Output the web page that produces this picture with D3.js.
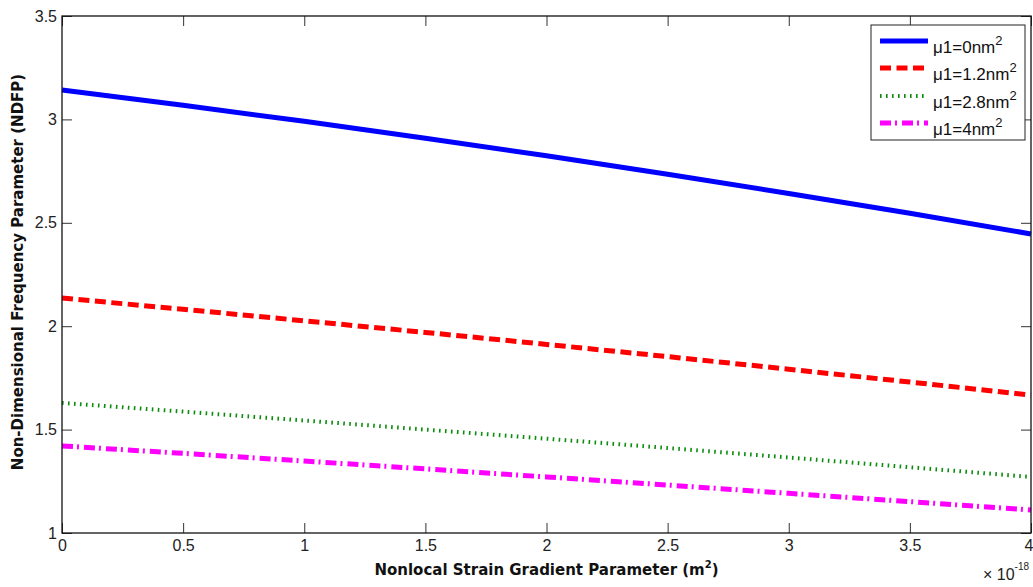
<!DOCTYPE html>
<html>
<head>
<meta charset="utf-8">
<script src="https://cdn.jsdelivr.net/npm/d3@7"></script>
<style>
  html, body { margin: 0; padding: 0; background: #fff; }
  svg { display: block; font-family: Arial, "Liberation Sans", sans-serif; }
</style>
</head>
<body>
<svg id="chart" width="1033" height="587"></svg>
<script>
// Nonlocal strain gradient parameter (units of 1e-18 m^2)
const xValues = [0, 0.5, 1, 1.5, 2, 2.5, 3, 3.5, 4];

// Non-dimensional frequency parameter for each mu1 value
const ndfpMu0   = [3.142, 3.068, 2.991, 2.909, 2.824, 2.735, 2.642, 2.546, 2.446];
const ndfpMu1_2 = [2.136, 2.082, 2.026, 1.970, 1.912, 1.853, 1.792, 1.730, 1.667];
const ndfpMu2_8 = [1.629, 1.587, 1.544, 1.500, 1.456, 1.411, 1.365, 1.318, 1.271];
const ndfpMu4   = [1.421, 1.385, 1.348, 1.310, 1.271, 1.232, 1.192, 1.152, 1.111];

const seriesNames = ["\u03bc1=0nm", "\u03bc1=1.2nm", "\u03bc1=2.8nm", "\u03bc1=4nm"];
const xTicks = [0, 0.5, 1, 1.5, 2, 2.5, 3, 3.5, 4];
const yTicks = [1, 1.5, 2, 2.5, 3, 3.5];

const series = [
  { name: seriesNames[0], values: ndfpMu0,   color: "#0000ff", width: 5, dash: null },
  { name: seriesNames[1], values: ndfpMu1_2, color: "#ff0000", width: 5, dash: "11,5.5" },
  { name: seriesNames[2], values: ndfpMu2_8, color: "#0c8c0c", width: 4, dash: "1.6,4.4" },
  { name: seriesNames[3], values: ndfpMu4,   color: "#ff00ff", width: 5, dash: "11,4,2,5" }
];

const svg = d3.select("#chart");
const plotLeft = 62, plotRight = 1031, plotTop = 16, plotBottom = 533;

const x = d3.scaleLinear().domain([0, 4]).range([plotLeft, plotRight]);
const y = d3.scaleLinear().domain([1, 3.5]).range([plotBottom, plotTop]);

// Data lines
const line = d3.line().x((d, i) => x(xValues[i])).y(d => y(d));
svg.append("g").selectAll("path")
  .data(series)
  .join("path")
  .attr("d", d => line(d.values))
  .attr("fill", "none")
  .attr("stroke", d => d.color)
  .attr("stroke-width", d => d.width)
  .attr("stroke-dasharray", d => d.dash);

// Axes with inward ticks on all four sides
const tickColor = "#333";
const fmt = d => String(d);
const axisStyle = g => {
  g.select(".domain").remove();
  g.selectAll(".tick line").attr("stroke", tickColor).attr("stroke-width", 1);
  g.selectAll(".tick text").attr("fill", "#222").style("font-size", "16px").style("font-family", "Arial, 'Liberation Sans', sans-serif");
};

svg.append("g").attr("transform", `translate(0,${plotBottom})`)
  .call(d3.axisBottom(x).tickValues(xTicks).tickFormat(fmt).tickSizeInner(-10).tickPadding(7))
  .call(axisStyle)
  // keep the last label inside the page edge
  .call(g => g.selectAll(".tick").filter(d => d === 4).select("text")
    .attr("text-anchor", "end").attr("dx", "2px"));
svg.append("g").attr("transform", `translate(0,${plotTop})`)
  .call(d3.axisTop(x).tickValues(xTicks).tickFormat("").tickSizeInner(-10))
  .call(axisStyle);
svg.append("g").attr("transform", `translate(${plotLeft},0)`)
  .call(d3.axisLeft(y).tickValues(yTicks).tickFormat(fmt).tickSizeInner(-10).tickPadding(5))
  .call(axisStyle);
svg.append("g").attr("transform", `translate(${plotRight},0)`)
  .call(d3.axisRight(y).tickValues(yTicks).tickFormat("").tickSizeInner(-10))
  .call(axisStyle);

// Plot box
svg.append("rect")
  .attr("x", plotLeft).attr("y", plotTop)
  .attr("width", plotRight - plotLeft).attr("height", plotBottom - plotTop)
  .attr("fill", "none").attr("stroke", "#111").attr("stroke-width", 1.3);

// Exponent label for x axis
const expo = svg.append("text").attr("x", 983).attr("y", 580)
  .attr("fill", "#222").style("font-size", "16px");
expo.append("tspan").text("\u00d7 10");
expo.append("tspan").attr("dy", -10).style("font-size", "10px").text("-18");

// Axis titles
const titleFont = "'DejaVu Sans', Verdana, sans-serif";
const xTitle = svg.append("text").attr("x", (plotLeft + plotRight) / 2).attr("y", 575)
  .attr("text-anchor", "middle").style("font-family", titleFont)
  .style("font-weight", "bold").style("font-size", "15px").attr("fill", "#111");
xTitle.append("tspan").text("Nonlocal Strain Gradient Parameter (m");
xTitle.append("tspan").attr("dy", -7).style("font-size", "10px").text("2");
xTitle.append("tspan").attr("dy", 7).text(")");

svg.append("text")
  .attr("transform", `translate(23,272) rotate(-90)`)
  .attr("text-anchor", "middle").style("font-family", titleFont)
  .style("font-weight", "bold").style("font-size", "15px").attr("fill", "#111")
  .text("Non-Dimensional Frequency Parameter (NDFP)");

// Legend
const legend = svg.append("g");
legend.append("rect").attr("x", 871).attr("y", 25).attr("width", 154).attr("height", 115)
  .attr("fill", "#fff").attr("stroke", "#222").attr("stroke-width", 1);
const rowY = [41, 68, 96, 123];
series.forEach((s, i) => {
  legend.append("line")
    .attr("x1", 880).attr("x2", 928).attr("y1", rowY[i]).attr("y2", rowY[i])
    .attr("stroke", s.color).attr("stroke-width", s.width).attr("stroke-dasharray", s.dash);
  const t = legend.append("text").attr("x", 933).attr("y", rowY[i] + 12)
    .attr("fill", "#111").style("font-size", "17px");
  t.append("tspan").text(s.name);
  t.append("tspan").attr("dy", -8).style("font-size", "13px").text("2");
});
</script>
</body>
</html>
